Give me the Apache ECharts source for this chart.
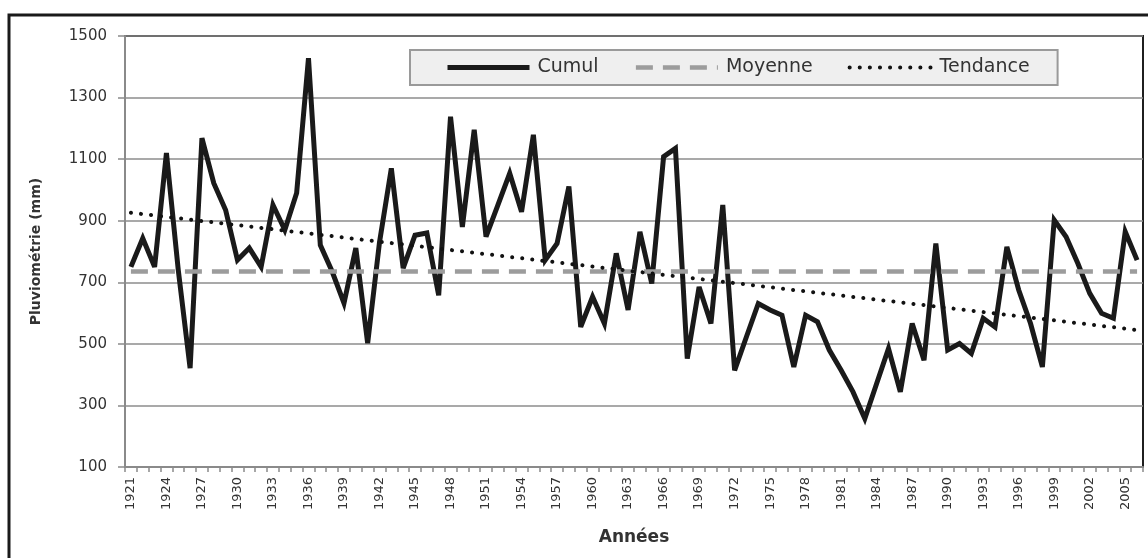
<!DOCTYPE html>
<html>
<head>
<meta charset="utf-8">
<script src="https://cdn.jsdelivr.net/npm/echarts@6/dist/echarts.min.js"></script>
<style>
html,body{margin:0;padding:0;background:#fff;}
#c{width:1148px;height:558px;}
</style>
</head>
<body>
<div id="c"></div>
<script>
var years = [];
for (var y = 1921; y <= 2006; y++) years.push(String(y));

var cumul = [
  750, 843, 750, 1120, 740, 421, 1168, 1022, 935, 772,
  811, 750, 951, 870, 990, 1428, 821, 735, 632, 811,
  502, 830, 1070, 746, 853, 860, 658, 1238, 880, 1195,
  848, 951, 1054, 929, 1179, 772, 826, 1011, 555, 653,
  566, 794, 610, 864, 696, 1108, 1135, 452, 685, 566,
  951, 414, 523, 631, 610, 593, 425, 593, 572, 480,
  414, 344, 257, 371, 485, 344, 566, 447, 826, 480,
  501, 469, 583, 555, 815, 675, 566, 425, 902, 848,
  761, 664, 599, 583, 864, 772
];
var moyenneValue = 735;
var tendanceEnds = [926, 545];
var yTicks = { min: 100, max: 1500, interval: 200 };

function endsOnly(a, b) {
  var arr = years.map(function () { return null; });
  arr[0] = a;
  arr[arr.length - 1] = b;
  return arr;
}

var cumulStyle = { color: '#1a1a1a', width: 5, join: 'miter', miterLimit: 4 };
var moyStyle = { color: '#9c9c9c', width: 4.5, type: [17, 10] };
var tendStyle = { color: '#111', width: 4, type: [0.1, 10], cap: 'round' };

var chart = echarts.init(document.getElementById('c'));
var FONT = 'DejaVu Sans';
chart.setOption({
  animation: false,
  backgroundColor: '#ffffff',
  textStyle: { fontFamily: FONT },
  graphic: [{
    type: 'rect',
    shape: { x: 9, y: 15, width: 1200, height: 600 },
    style: { fill: 'none', stroke: '#1a1a1a', lineWidth: 3 },
    silent: true
  }],
  grid: {
    left: 125, right: 5, top: 36, bottom: 91,
    show: true, borderColor: '#1f1f1f', borderWidth: 2, backgroundColor: '#ffffff'
  },
  legend: {
    left: 410, top: 50,
    padding: [8, 28, 8, 35],
    itemGap: 35,
    itemWidth: 82, itemHeight: 14,
    backgroundColor: '#efefef',
    borderColor: '#9a9a9a', borderWidth: 2,
    itemStyle: { opacity: 0 },
    textStyle: { fontFamily: FONT, fontSize: 19, color: '#333', padding: [0, 0, 0, 3] },
    data: [
      { name: 'Cumul', lineStyle: cumulStyle },
      { name: 'Moyenne', lineStyle: moyStyle },
      { name: 'Tendance', lineStyle: tendStyle }
    ]
  },
  xAxis: {
    type: 'category',
    data: years,
    boundaryGap: true,
    name: 'Années',
    nameLocation: 'middle',
    nameGap: 62,
    nameTextStyle: { fontFamily: FONT, fontSize: 17, fontWeight: 'bold', color: '#333' },
    axisLine: { show: true, lineStyle: { color: '#8a8a8a', width: 2 } },
    axisTick: { show: true, interval: 0, length: 5, lineStyle: { color: '#8a8a8a', width: 1.5 } },
    axisLabel: { interval: 2, rotate: 90, margin: 10, fontSize: 13, color: '#333', fontFamily: FONT },
    splitLine: { show: false }
  },
  yAxis: {
    type: 'value',
    min: yTicks.min, max: yTicks.max, interval: yTicks.interval,
    name: 'Pluviométrie (mm)',
    nameLocation: 'middle',
    nameGap: 82,
    nameTextStyle: { fontFamily: FONT, fontSize: 14, fontWeight: 'bold', color: '#333' },
    axisLine: { show: true, lineStyle: { color: '#8a8a8a', width: 2 } },
    axisTick: { show: true, length: 7, lineStyle: { color: '#8a8a8a', width: 1.5 } },
    axisLabel: { margin: 18, fontSize: 15, color: '#333', fontFamily: FONT,
      formatter: function (v) { return String(v); } },
    splitLine: { show: true, lineStyle: { color: '#8c8c8c', width: 1.5 } }
  },
  series: [
    {
      name: 'Cumul', type: 'line', data: cumul,
      symbol: 'none',
      lineStyle: cumulStyle,
      itemStyle: { color: '#1a1a1a' }
    },
    {
      name: 'Moyenne', type: 'line', data: endsOnly(moyenneValue, moyenneValue),
      connectNulls: true, symbol: 'none',
      lineStyle: moyStyle,
      itemStyle: { color: '#9c9c9c' }
    },
    {
      name: 'Tendance', type: 'line', data: endsOnly(tendanceEnds[0], tendanceEnds[1]),
      connectNulls: true, symbol: 'none',
      lineStyle: tendStyle,
      itemStyle: { color: '#111' }
    }
  ]
});
</script>
</body>
</html>
